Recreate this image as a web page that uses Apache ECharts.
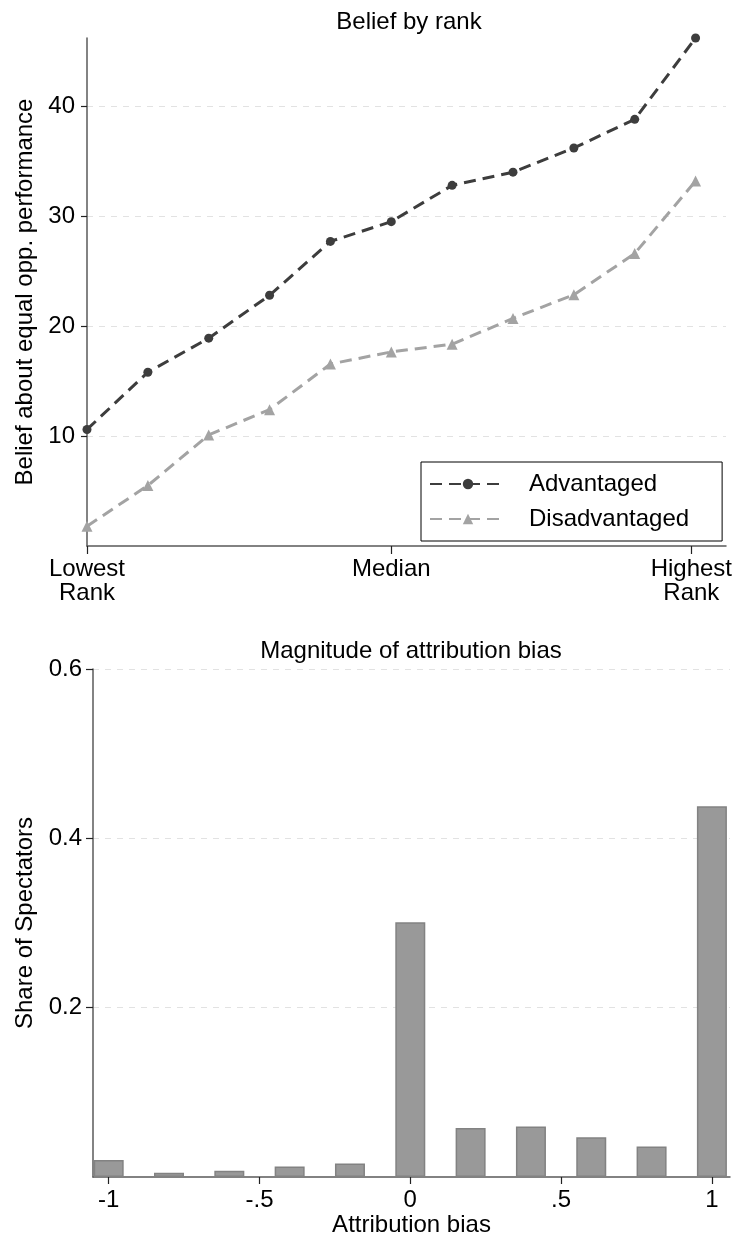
<!DOCTYPE html>
<html>
<head>
<meta charset="utf-8">
<script src="https://cdn.jsdelivr.net/npm/echarts@6/dist/echarts.min.js"></script>
<style>
html,body{margin:0;padding:0;background:#fff;}
#chart{width:735px;height:1241px;}
</style>
</head>
<body>
<div id="chart"></div>
<script>
// ---- Data (top panel) ----
const rankPos = [0, 1, 2, 3, 4, 5, 6, 7, 8, 9, 10];
const advantaged = [10.6, 15.8, 18.9, 22.8, 27.7, 29.5, 32.8, 34.0, 36.2, 38.8, 46.2];
const disadvantaged = [1.8, 5.5, 10.1, 12.4, 16.55, 17.65, 18.35, 20.7, 22.85, 26.6, 33.2];
const rankTickValues = [0, 5, 9.93];
const rankTickLabels = ['Lowest\nRank', 'Median', 'Highest\nRank'];
const beliefTicks = [10, 20, 30, 40];

// ---- Data (bottom panel) ----
const biasValues = [-1, -0.8, -0.6, -0.4, -0.2, 0, 0.2, 0.4, 0.6, 0.8, 1];
const shares = [0.020, 0.005, 0.0075, 0.0125, 0.016, 0.301, 0.058, 0.0595, 0.047, 0.036, 0.438];
const biasTicks = [-1, -0.5, 0, 0.5, 1];
const shareTicks = [0.2, 0.4, 0.6];

const FONT = '"Liberation Sans", Arial, Helvetica, sans-serif';
const FS = 24;
const AXIS_COLOR = '#5a5a5a';
const GRID_LINE = {show: true, lineStyle: {color: '#e2e2e2', width: 1, type: [6, 6]}};

function zip(xs, ys) { return xs.map((x, i) => [x, ys[i]]); }
function fmtBias(v) {
  if (v === 0) return '0';
  const s = String(Math.abs(v)).replace(/^0/, '');
  return (v < 0 ? '-' : '') + s;
}

const chart = echarts.init(document.getElementById('chart'), null, {renderer: 'canvas'});

const option = {
  backgroundColor: '#fff',
  animation: false,
  textStyle: {fontFamily: FONT, color: '#000'},
  title: [
    {text: 'Belief by rank', left: 409, top: 9, textAlign: 'center', padding: 0,
     textStyle: {fontFamily: FONT, fontSize: FS, fontWeight: 'normal', color: '#000', lineHeight: 26}},
    {text: 'Magnitude of attribution bias', left: 411, top: 638, textAlign: 'center', padding: 0,
     textStyle: {fontFamily: FONT, fontSize: FS, fontWeight: 'normal', color: '#000', lineHeight: 26}}
  ],
  legend: {
    left: 421, top: 462,
    orient: 'vertical',
    data: ['Advantaged', 'Disadvantaged'],
    borderColor: '#000', borderWidth: 1, borderRadius: 0,
    padding: [10, 33, 10, 8],
    itemWidth: 76, itemHeight: 13, itemGap: 11,
    textStyle: {fontFamily: FONT, fontSize: FS, color: '#000', lineHeight: 22, padding: [0, 0, 0, 18]},
    selectedMode: false
  },
  grid: [
    {left: 87, top: 38, width: 643, height: 508},
    {left: 93, top: 669, width: 637, height: 508}
  ],
  xAxis: [
    {
      gridIndex: 0, type: 'value', min: 0, max: 10.5,
      axisLine: {show: true, onZero: false, lineStyle: {color: AXIS_COLOR, width: 1.5}},
      axisTick: {show: true, customValues: rankTickValues, length: 8, lineStyle: {color: '#222', width: 1.2}},
      axisLabel: {show: true, customValues: rankTickValues, margin: 11, fontFamily: FONT, fontSize: FS, color: '#000', lineHeight: 24.5,
        formatter: function (v) { const i = rankTickValues.indexOf(v); return i >= 0 ? rankTickLabels[i] : ''; }},
      splitLine: {show: false}
    },
    {
      gridIndex: 1, type: 'value', min: -1.052, max: 1.06,
      name: 'Attribution bias', nameLocation: 'middle', nameGap: 36,
      nameTextStyle: {fontFamily: FONT, fontSize: FS, color: '#000'},
      axisLine: {show: true, onZero: false, lineStyle: {color: AXIS_COLOR, width: 1.5}},
      axisTick: {show: true, customValues: biasTicks, length: 7, lineStyle: {color: '#222', width: 1.2}},
      axisLabel: {show: true, customValues: biasTicks, margin: 11, fontFamily: FONT, fontSize: FS, color: '#000', formatter: fmtBias},
      splitLine: {show: false}
    }
  ],
  yAxis: [
    {
      gridIndex: 0, type: 'value', min: 0, max: 46.2,
      name: 'Belief about equal opp. performance', nameLocation: 'middle', nameGap: 49,
      nameTextStyle: {fontFamily: FONT, fontSize: FS, color: '#000'},
      axisLine: {show: true, onZero: false, lineStyle: {color: AXIS_COLOR, width: 1.5}},
      axisTick: {show: true, customValues: beliefTicks, length: 6, lineStyle: {color: '#222', width: 1.2}},
      axisLabel: {show: true, customValues: beliefTicks, margin: 12, fontFamily: FONT, fontSize: FS, color: '#000'},
      splitLine: GRID_LINE
    },
    {
      gridIndex: 1, type: 'value', min: 0, max: 0.6,
      name: 'Share of Spectators', nameLocation: 'middle', nameGap: 56,
      nameTextStyle: {fontFamily: FONT, fontSize: FS, color: '#000'},
      axisLine: {show: true, onZero: false, lineStyle: {color: AXIS_COLOR, width: 1.5}},
      axisTick: {show: true, customValues: shareTicks, length: 7, lineStyle: {color: '#222', width: 1.2}},
      axisLabel: {show: true, customValues: shareTicks, margin: 11, fontFamily: FONT, fontSize: FS, color: '#000',
        formatter: function (v) { return v.toFixed(1); }},
      splitLine: GRID_LINE
    }
  ],
  series: [
    {
      name: 'Advantaged', type: 'line', xAxisIndex: 0, yAxisIndex: 0,
      data: zip(rankPos, advantaged),
      symbol: 'circle', symbolSize: 9,
      itemStyle: {color: '#3d3d3d'},
      lineStyle: {color: '#3d3d3d', width: 3, type: [12, 7]}
    },
    {
      name: 'Disadvantaged', type: 'line', xAxisIndex: 0, yAxisIndex: 0,
      data: zip(rankPos, disadvantaged),
      symbol: 'triangle', symbolSize: 11,
      itemStyle: {color: '#a3a3a3'},
      lineStyle: {color: '#a3a3a3', width: 3, type: [12, 7]}
    },
    {
      name: 'Share', type: 'bar', xAxisIndex: 1, yAxisIndex: 1,
      data: zip(biasValues, shares),
      barWidth: 30,
      itemStyle: {color: '#999999', borderColor: '#828282', borderWidth: 1.5}
    }
  ]
};
chart.setOption(option);
</script>
</body>
</html>
